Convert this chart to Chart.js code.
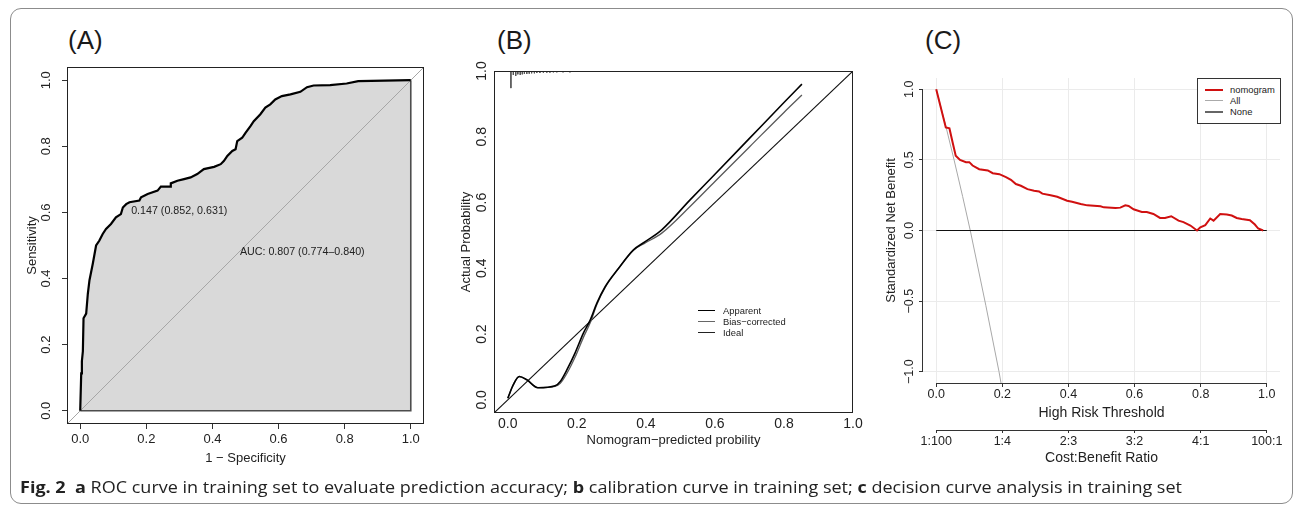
<!DOCTYPE html>
<html>
<head>
<meta charset="utf-8">
<script src="https://cdn.jsdelivr.net/npm/chart.js@4.4.1/dist/chart.umd.min.js"></script>
<style>
html, body { margin: 0; padding: 0; background: #fff; }
body { width: 1295px; height: 507px; position: relative; overflow: hidden; font-family: "Liberation Sans", Arial, sans-serif; color: #222; }
#frame { position: absolute; left: 10px; top: 8px; width: 1283px; height: 496px; border: 1px solid #8c8c8c; border-radius: 11px; box-sizing: border-box; }
canvas { position: absolute; }
.ptitle { position: absolute; font-size: 26px; line-height: 26px; color: #1a1a1a; }
.leg { position: absolute; font-size: 9.4px; line-height: 11px; color: #222; white-space: nowrap; }
.leg .row { position: absolute; left: 0; height: 11px; }
.leg .ln { position: absolute; top: 5px; }
.leg .tx { position: absolute; top: 0; }
#legC { border: 1px solid #333; box-sizing: border-box; background: #fff; }
#cap { position: absolute; left: 20px; top: 477px; font-family: "Open Sans", "Noto Sans", sans-serif; font-size: 16px; line-height: 20px; white-space: nowrap; color: #222; transform-origin: 0 0; }
#cap b { font-weight: 700; }
</style>
</head>
<body>
<div id="frame"></div>
<div class="ptitle" style="left:68px; top:27px;">(A)</div>
<div class="ptitle" style="left:497px; top:27px;">(B)</div>
<div class="ptitle" style="left:925px; top:27px;">(C)</div>
<canvas id="cA" width="440" height="440" style="left:0px; top:40px;"></canvas>
<canvas id="cB" width="440" height="440" style="left:440px; top:40px;"></canvas>
<canvas id="cC" width="425" height="440" style="left:870px; top:40px;"></canvas>

<div class="leg" id="legB" style="left:698px; top:305px; width:90px; height:40px;">
  <div class="row" style="top:0px;"><div class="ln" style="left:0; width:17px; border-top:1.5px solid #000;"></div><div class="tx" style="left:25px;">Apparent</div></div>
  <div class="row" style="top:11px;"><div class="ln" style="left:0; width:17px; border-top:1.3px solid #666;"></div><div class="tx" style="left:25px;">Bias−corrected</div></div>
  <div class="row" style="top:22px;"><div class="ln" style="left:0; width:17px; border-top:1.3px solid #222;"></div><div class="tx" style="left:25px;">Ideal</div></div>
</div>

<div class="leg" id="legC" style="left:1197px; top:78px; width:84px; height:46px;">
  <div class="row" style="top:5px;"><div class="ln" style="left:7px; width:18px; border-top:2px solid #d01010;"></div><div class="tx" style="left:32px;">nomogram</div></div>
  <div class="row" style="top:16px;"><div class="ln" style="left:7px; width:18px; border-top:1px solid #aaa;"></div><div class="tx" style="left:32px;">All</div></div>
  <div class="row" style="top:27px;"><div class="ln" style="left:7px; width:18px; border-top:2px solid #666;"></div><div class="tx" style="left:32px;">None</div></div>
</div>

<div id="cap"><b>Fig. 2</b>&nbsp; <b>a</b> ROC curve in training set to evaluate prediction accuracy; <b>b</b> calibration curve in training set; <b>c</b> decision curve analysis in training set</div>

<script>
// ---------------- DATA ----------------
// Panel A: ROC curve (1 - specificity, sensitivity)
const rocFpr = [0, 0.003, 0.005, 0.008, 0.010, 0.018, 0.023, 0.028, 0.038, 0.048, 0.058, 0.068, 0.078, 0.093, 0.108, 0.123, 0.129, 0.139, 0.149, 0.179, 0.184, 0.204, 0.234, 0.244, 0.274, 0.274, 0.294, 0.314, 0.334, 0.354, 0.374, 0.405, 0.425, 0.435, 0.445, 0.46, 0.47, 0.475, 0.49, 0.5, 0.515, 0.525, 0.545, 0.56, 0.575, 0.59, 0.61, 0.636, 0.666, 0.686, 0.706, 0.756, 0.806, 0.841, 1.0];
const rocTpr = [0, 0.113, 0.15, 0.18, 0.28, 0.294, 0.354, 0.395, 0.445, 0.5, 0.515, 0.535, 0.55, 0.565, 0.585, 0.595, 0.615, 0.625, 0.631, 0.636, 0.646, 0.656, 0.666, 0.678, 0.678, 0.688, 0.696, 0.701, 0.706, 0.716, 0.731, 0.738, 0.746, 0.756, 0.771, 0.786, 0.791, 0.816, 0.826, 0.841, 0.861, 0.876, 0.897, 0.917, 0.927, 0.942, 0.952, 0.957, 0.965, 0.979, 0.984, 0.985, 0.99, 0.997, 1.0];
const rocCutoffLabel = "0.147 (0.852, 0.631)";
const rocAucLabel = "AUC: 0.807 (0.774–0.840)";

// Panel B: calibration curves
const calPredicted = [0.0, 0.016, 0.033, 0.055, 0.087, 0.137, 0.152, 0.171, 0.195, 0.219, 0.239, 0.258, 0.282, 0.321, 0.364, 0.398, 0.446, 0.528, 0.6, 0.7, 0.8, 0.852];
const calApparent  = [0.005, 0.046, 0.071, 0.061, 0.037, 0.043, 0.056, 0.091, 0.143, 0.203, 0.243, 0.294, 0.344, 0.4, 0.456, 0.481, 0.517, 0.608, 0.686, 0.795, 0.904, 0.96];
const calBiasCorr  = [0.005, 0.046, 0.071, 0.061, 0.037, 0.041, 0.05, 0.08, 0.13, 0.19, 0.235, 0.29, 0.342, 0.4, 0.455, 0.477, 0.507, 0.588, 0.664, 0.769, 0.874, 0.927];
// spike histogram of predictions along the top
const rugX   = [0.009, 0.016, 0.023, 0.029, 0.036, 0.042, 0.048, 0.055, 0.062, 0.069, 0.077, 0.084, 0.093, 0.103, 0.113, 0.122, 0.132, 0.142, 0.16, 0.18, 0.2, 0.22, 0.25, 0.28, 0.31, 0.35, 0.4, 0.45, 0.5, 0.55, 0.6, 0.65, 0.7, 0.75, 0.8, 0.85];
const rugLen = [0.052, 0.012, 0.015, 0.01, 0.012, 0.01, 0.009, 0.009, 0.008, 0.007, 0.007, 0.006, 0.006, 0.005, 0.005, 0.005, 0.004, 0.004, 0.004, 0.004, 0.003, 0.003, 0.003, 0.003, 0.003, 0.003, 0.003, 0.003, 0.003, 0.003, 0.003, 0.003, 0.003, 0.003, 0.003, 0.003];

// Panel C: decision curve
const dcaThreshold = [0, 0.029, 0.04, 0.05, 0.059, 0.072, 0.09, 0.1, 0.11, 0.13, 0.156, 0.171, 0.191, 0.211, 0.226, 0.241, 0.256, 0.276, 0.296, 0.311, 0.321, 0.346, 0.366, 0.396, 0.411, 0.437, 0.457, 0.497, 0.507, 0.542, 0.557, 0.572, 0.582, 0.597, 0.622, 0.637, 0.657, 0.677, 0.692, 0.711, 0.733, 0.748, 0.769, 0.789, 0.799, 0.814, 0.829, 0.839, 0.859, 0.879, 0.894, 0.909, 0.924, 0.949, 0.964, 0.974, 0.989];
const dcaNomogram  = [1.0, 0.73, 0.723, 0.62, 0.53, 0.5, 0.484, 0.484, 0.46, 0.434, 0.425, 0.406, 0.399, 0.378, 0.359, 0.329, 0.317, 0.293, 0.282, 0.277, 0.261, 0.249, 0.239, 0.211, 0.204, 0.188, 0.178, 0.171, 0.164, 0.16, 0.162, 0.178, 0.174, 0.15, 0.131, 0.131, 0.117, 0.089, 0.089, 0.101, 0.07, 0.059, 0.035, 0.0, 0.023, 0.038, 0.085, 0.07, 0.117, 0.113, 0.106, 0.089, 0.082, 0.073, 0.042, 0.014, 0.0];
const allThreshold = [0, 0.03, 0.054, 0.08, 0.103, 0.15, 0.19, 0.205];
const allNB        = [1.0, 0.73, 0.5, 0.24, 0.0, -0.53, -1.0, -1.2];
const noneThreshold = [0, 1.0];
const noneNB        = [0, 0];

// Ticks
const unitTicks = [0, 0.2, 0.4, 0.6, 0.8, 1.0];
const unitTickLabels = ["0.0", "0.2", "0.4", "0.6", "0.8", "1.0"];
const nbTicks = [-1, -0.5, 0, 0.5, 1];
const nbTickLabels = ["−1.0", "−0.5", "0.0", "0.5", "1.0"];
const costBenefitTicks = [0, 0.2, 0.4, 0.6, 0.8, 1.0];
const costBenefitLabels = ["1:100", "1:4", "2:3", "3:2", "4:1", "100:1"];

// Axis ranges
const rangeA = [-0.04, 1.04];
const rangeB = [-0.04, 1.0];
const rangeCx = [-0.04, 1.04];
const rangeCy = [-1.08, 1.08];

// ---------------- HELPERS ----------------
Chart.defaults.font.family = '"Liberation Sans", Arial, sans-serif';
Chart.defaults.color = '#222';
Chart.defaults.animation = false;
Chart.defaults.plugins.legend.display = false;
Chart.defaults.plugins.tooltip.enabled = false;

function sizeScale(prop, size) {
  return function (s) {
    s[prop] = size;
    s.paddingLeft = 0; s.paddingRight = 0; s.paddingTop = 0; s.paddingBottom = 0;
  };
}
function setTicks(values) {
  return function (s) { s.ticks = values.map(function (v) { return { value: v }; }); };
}
function pts(xs, ys) { return xs.map(function (x, i) { return { x: x, y: ys[i] }; }); }

const framePlugin = {
  id: 'frameBox',
  afterDatasetsDraw(chart) {
    const a = chart.chartArea, ctx = chart.ctx;
    ctx.save();
    ctx.strokeStyle = '#222';
    ctx.lineWidth = 1;
    ctx.strokeRect(Math.round(a.left) + 0.5, Math.round(a.top) + 0.5, Math.round(a.right - a.left) - 1, Math.round(a.bottom - a.top) - 1);
    ctx.restore();
  }
};

// ---------------- PANEL A ----------------
const notesPluginA = {
  id: 'notesA',
  afterDatasetsDraw(chart) {
    const ctx = chart.ctx, sx = chart.scales.x, sy = chart.scales.y;
    ctx.save();
    ctx.font = '10.7px "Liberation Sans", Arial, sans-serif';
    ctx.fillStyle = '#222';
    ctx.textAlign = 'left';
    ctx.textBaseline = 'middle';
    ctx.fillText(rocCutoffLabel, sx.getPixelForValue(0.154), sy.getPixelForValue(0.605));
    ctx.fillText(rocAucLabel, sx.getPixelForValue(0.483), sy.getPixelForValue(0.479));
    ctx.restore();
  }
};

new Chart(document.getElementById('cA'), {
  type: 'line',
  data: {
    datasets: [
      { data: pts(rocFpr, rocTpr), borderColor: '#000', borderWidth: 2.2, pointRadius: 0, fill: 'origin', backgroundColor: '#d9d9d9', order: 0, tension: 0 },
      { data: pts(rangeA, rangeA), borderColor: '#a6a6a6', borderWidth: 1, pointRadius: 0, fill: false, order: 1 },
      { data: [{ x: rocFpr[0], y: rocTpr[0] }, { x: rocFpr[rocFpr.length - 1], y: rocTpr[0] }, { x: rocFpr[rocFpr.length - 1], y: rocTpr[rocTpr.length - 1] }],
        borderColor: '#4d4d4d', borderWidth: 1.6, pointRadius: 0, fill: false, order: 2 }
    ]
  },
  options: {
    responsive: false,
    devicePixelRatio: 1,
    layout: { padding: { left: 0, top: 27, right: 16, bottom: 0 } },
    plugins: { filler: { drawTime: 'beforeDatasetsDraw' } },
    scales: {
      x: {
        type: 'linear', min: rangeA[0], max: rangeA[1],
        afterBuildTicks: setTicks(unitTicks), afterFit: sizeScale('height', 56),
        ticks: { callback: function (v, i) { return unitTickLabels[i]; }, font: { size: 13 }, padding: 2.2, maxRotation: 0, autoSkip: false, color: '#222' },
        grid: { drawOnChartArea: false, drawTicks: true, tickLength: 5, tickColor: '#333' },
        border: { display: false },
        title: { display: true, text: '1 − Specificity', font: { size: 13 }, color: '#222', padding: { top: 0, bottom: 14.2 } }
      },
      y: {
        type: 'linear', min: rangeA[0], max: rangeA[1],
        afterBuildTicks: setTicks(unitTicks), afterFit: sizeScale('width', 67),
        ticks: { callback: function (v, i) { return unitTickLabels[i]; }, font: { size: 13 }, padding: 6.3, minRotation: 90, maxRotation: 90, crossAlign: 'center', autoSkip: false, color: '#222' },
        grid: { drawOnChartArea: false, drawTicks: true, tickLength: 5, tickColor: '#333' },
        border: { display: false },
        title: { display: true, text: 'Sensitivity', font: { size: 13 }, color: '#222', padding: { top: 24.2, bottom: 0 } }
      }
    }
  },
  plugins: [framePlugin, notesPluginA]
});

// ---------------- PANEL B ----------------
const rugData = [];
rugX.forEach(function (x, i) {
  rugData.push({ x: x, y: 1 }, { x: x, y: 1 - rugLen[i] }, { x: x, y: null });
});

new Chart(document.getElementById('cB'), {
  type: 'line',
  data: {
    datasets: [
      { data: pts(calPredicted, calApparent), borderColor: '#000', borderWidth: 1.6, pointRadius: 0, fill: false, cubicInterpolationMode: 'monotone', order: 0 },
      { data: pts(calPredicted, calBiasCorr), borderColor: '#5a5a5a', borderWidth: 1.3, pointRadius: 0, fill: false, cubicInterpolationMode: 'monotone', order: 1 },
      { data: pts(rangeB, rangeB), borderColor: '#111', borderWidth: 1.1, pointRadius: 0, fill: false, order: 2 },
      { data: rugData, borderColor: '#555', borderWidth: 1, pointRadius: 0, fill: false, spanGaps: false, order: 3 }
    ]
  },
  options: {
    responsive: false,
    devicePixelRatio: 1,
    layout: { padding: { left: 0, top: 31, right: 27, bottom: 0 } },
    scales: {
      x: {
        type: 'linear', min: rangeB[0], max: rangeB[1],
        afterBuildTicks: setTicks(unitTicks), afterFit: sizeScale('height', 67),
        ticks: { callback: function (v, i) { return unitTickLabels[i]; }, font: { size: 14 }, padding: 2.6, maxRotation: 0, autoSkip: false, color: '#222' },
        grid: { display: false, drawTicks: false },
        border: { display: false },
        title: { display: true, text: 'Nomogram−predicted probility', font: { size: 13 }, color: '#222', padding: { top: 0, bottom: 32.2 } }
      },
      y: {
        type: 'linear', min: rangeB[0], max: rangeB[1],
        afterBuildTicks: setTicks(unitTicks), afterFit: sizeScale('width', 54),
        ticks: { callback: function (v, i) { return unitTickLabels[i]; }, font: { size: 14 }, padding: 2.6, minRotation: 90, maxRotation: 90, crossAlign: 'center', autoSkip: false, color: '#222' },
        grid: { display: false, drawTicks: false },
        border: { display: false },
        title: { display: true, text: 'Actual Probability', font: { size: 13 }, color: '#222', padding: { top: 18.2, bottom: 0 } }
      }
    }
  },
  plugins: [framePlugin]
});

// ---------------- PANEL C ----------------
const rAxesPluginC = {
  id: 'rAxesC',
  afterDraw(chart) {
    const ctx = chart.ctx;
    ctx.save();
    ctx.strokeStyle = '#333';
    ctx.lineWidth = 1;
    ['x', 'x2'].forEach(function (id) {
      const s = chart.scales[id], t = s.ticks;
      const y = Math.round(s.top) + 0.5;
      ctx.beginPath();
      ctx.moveTo(s.getPixelForValue(t[0].value), y);
      ctx.lineTo(s.getPixelForValue(t[t.length - 1].value), y);
      ctx.stroke();
    });
    const sy = chart.scales.y, ty = sy.ticks;
    const x = Math.round(sy.right) - 0.5;
    ctx.beginPath();
    ctx.moveTo(x, sy.getPixelForValue(ty[0].value));
    ctx.lineTo(x, sy.getPixelForValue(ty[ty.length - 1].value));
    ctx.stroke();
    ctx.restore();
  }
};

new Chart(document.getElementById('cC'), {
  type: 'line',
  data: {
    datasets: [
      { data: pts(dcaThreshold, dcaNomogram), borderColor: '#d01010', borderWidth: 2, pointRadius: 0, fill: false, order: 0 },
      { data: pts(noneThreshold, noneNB), borderColor: '#111', borderWidth: 1.2, pointRadius: 0, fill: false, order: 1 },
      { data: pts(allThreshold, allNB), borderColor: '#a8a8a8', borderWidth: 1, pointRadius: 0, fill: false, order: 2 }
    ]
  },
  options: {
    responsive: false,
    devicePixelRatio: 1,
    layout: { padding: { left: 0, top: 38, right: 15, bottom: 0 } },
    scales: {
      x: {
        type: 'linear', min: rangeCx[0], max: rangeCx[1], weight: 0,
        afterBuildTicks: setTicks(unitTicks), afterFit: sizeScale('height', 47),
        ticks: { callback: function (v, i) { return unitTickLabels[i]; }, font: { size: 12.5 }, padding: 0.5, maxRotation: 0, autoSkip: false, color: '#222' },
        grid: { color: '#ebebeb', lineWidth: 1, drawOnChartArea: true, drawTicks: true, tickLength: 4, tickColor: '#333' },
        border: { display: false },
        title: { display: true, text: 'High Risk Threshold', font: { size: 14 }, color: '#222', padding: { top: 0, bottom: 8.3 } }
      },
      x2: {
        type: 'linear', axis: 'x', position: 'bottom', min: rangeCx[0], max: rangeCx[1], weight: 1,
        afterBuildTicks: setTicks(costBenefitTicks), afterFit: sizeScale('height', 50),
        ticks: { callback: function (v, i) { return costBenefitLabels[i]; }, font: { size: 12.5 }, padding: 1.2, maxRotation: 0, autoSkip: false, color: '#222' },
        grid: { drawOnChartArea: false, drawTicks: true, tickLength: 3, tickColor: '#333' },
        border: { display: false },
        title: { display: true, text: 'Cost:Benefit Ratio', font: { size: 14 }, color: '#222', padding: { top: 0, bottom: 13.6 } }
      },
      y: {
        type: 'linear', min: rangeCy[0], max: rangeCy[1],
        afterBuildTicks: setTicks(nbTicks), afterFit: sizeScale('width', 53),
        ticks: { callback: function (v, i) { return nbTickLabels[i]; }, font: { size: 12.5 }, padding: -3.3, minRotation: 90, maxRotation: 90, crossAlign: 'center', autoSkip: false, color: '#222' },
        grid: { color: '#ebebeb', lineWidth: 1, drawOnChartArea: true, drawTicks: true, tickLength: 4, tickColor: '#333' },
        border: { display: false },
        title: { display: true, text: 'Standardized Net Benefit', font: { size: 13 }, color: '#222', padding: { top: 13.9, bottom: 0 } }
      }
    }
  },
  plugins: [rAxesPluginC]
});

// caption width fit
(function () {
  const cap = document.getElementById('cap');
  const w = cap.getBoundingClientRect().width;
  if (w > 0) cap.style.transform = 'scaleX(' + (1162 / w).toFixed(4) + ')';
})();
</script>
</body>
</html>
